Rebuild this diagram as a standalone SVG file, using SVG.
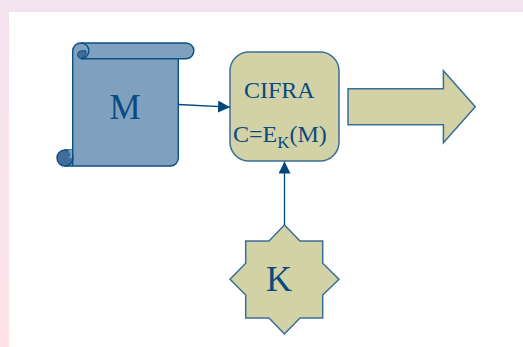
<svg xmlns="http://www.w3.org/2000/svg" width="523" height="347" viewBox="0 0 523 347">
<defs>
<linearGradient id="bg" x1="0" y1="0" x2="0" y2="1"><stop offset="0" stop-color="#f3e3ef"/><stop offset="1" stop-color="#fee4e8"/></linearGradient>
<marker id="ah" markerUnits="userSpaceOnUse" markerWidth="13" markerHeight="12" refX="12" refY="6" orient="auto"><path d="M0 0L12 6L0 12Z" fill="#00477f"/></marker>
</defs>
<style>
.s{stroke:#0b4f84;stroke-width:1.4;stroke-linejoin:round}
.tan{fill:#d3d2a6;stroke:#3a6e96;stroke-width:1.5;stroke-linejoin:miter}
.blue{fill:#7fa1bf}
.dark{fill:#3f6f98}
.t{font-family:"Liberation Serif","Times New Roman",serif;fill:#0a4a7f}
.c{fill:none;stroke:#00477f;stroke-width:1.3}
</style>
<rect width="523" height="347" fill="#fff"/>
<path d="M0 0H523V12H9V347H0Z" fill="url(#bg)"/>
<g id="node-m">
<path class="s blue" d="M81 43H186A7.85 7.85 0 0 1 186 58.7H178.3V158A8 8 0 0 1 170.3 166H65V150H72.7V51A8 8 0 0 1 81 43Z"/>
<path class="s" fill="none" d="M81 58.7H178.3"/>
<path class="s" fill="none" d="M81 43A7.85 7.85 0 0 1 81 58.7"/>
<path class="dark" stroke="#0b4f84" stroke-width="1" d="M81 58.7A4 4 0 0 1 81 50.8H86V54A7.85 7.85 0 0 1 81 58.7Z"/>
<circle class="s dark" cx="65" cy="158" r="8"/>
<path fill="#7fa1bf" stroke="none" d="M73 150V158H67.5A3 3 0 0 0 70 153.5L68 150Z"/>
<path class="s" fill="none" d="M72.7 150V166"/>
<text class="t" x="125" y="119" font-size="35" text-anchor="middle">M</text>
</g>
<g id="node-cifra">
<rect class="tan" x="230" y="52" width="109" height="109" rx="19"/>
<text class="t" x="244" y="98" font-size="24">CIFRA</text>
<text class="t" x="233" y="142" font-size="24">C=E<tspan font-size="17" dy="6">K</tspan><tspan dy="-6">(M)</tspan></text>
</g>
<g id="node-output">
<path class="tan" d="M348 88.7H443.4V70.7L475.3 106.7L443.4 142.7V124.7H348Z"/>
</g>
<g id="node-k">
<path class="tan" d="M284.4 225L300 241H322.7V263.3L339 279.3L322.7 295V318H300L284.4 334L269 318H245.7V295L230 279.3L245.7 263.3V241H269Z"/>
<text class="t" x="279" y="291" font-size="36" text-anchor="middle">K</text>
</g>
<g id="connectors">
<path class="c" d="M178.5 104.5L230 107.2" marker-end="url(#ah)"/>
<path class="c" d="M284.5 225V161.5" marker-end="url(#ah)"/>
</g>
</svg>
